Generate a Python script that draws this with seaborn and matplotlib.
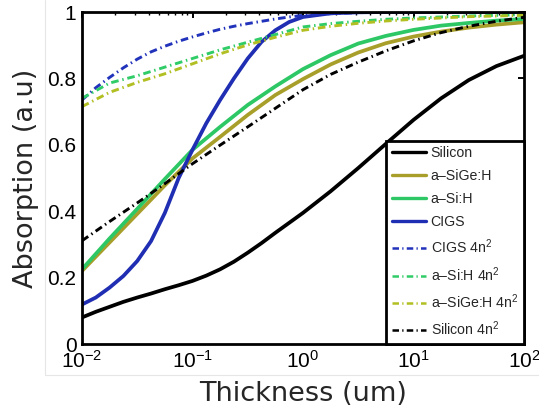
import numpy as np
import pandas as pd
import matplotlib
matplotlib.use("Agg")
import matplotlib.pyplot as plt
from matplotlib.lines import Line2D
import seaborn as sns

# ---------------- data ----------------
# log10(thickness in um) sample positions
log_x_quarter = [-2, -1.75, -1.5, -1.25, -1, -0.75, -0.5, -0.25, 0,
                 0.25, 0.5, 0.75, 1, 1.25, 1.5, 1.75, 2]
log_x_fine = [-2, -1.875, -1.75, -1.625, -1.5, -1.375, -1.25, -1.125, -1,
              -0.875, -0.75, -0.625, -0.5, -0.375, -0.25, -0.125, 0,
              0.25, 0.5, 0.75, 1, 1.25, 1.5, 1.75, 2]

silicon = [0.080, 0.097, 0.112, 0.127, 0.140, 0.152, 0.165, 0.177, 0.190,
           0.206, 0.225, 0.248, 0.275, 0.304, 0.335, 0.365, 0.395,
           0.460, 0.530, 0.603, 0.675, 0.740, 0.795, 0.837, 0.868]
cigs = [0.119, 0.140, 0.170, 0.205, 0.250, 0.310, 0.395, 0.500, 0.585,
        0.665, 0.735, 0.800, 0.860, 0.910, 0.945, 0.970, 0.985,
        0.996, 0.999, 1.0, 1.0, 1.0, 1.0, 1.0, 1.0]
cigs_4n2 = [0.735, 0.772, 0.803, 0.832, 0.858, 0.880, 0.897, 0.912, 0.925,
            0.937, 0.948, 0.957, 0.965, 0.972, 0.979, 0.985, 0.990,
            0.995, 0.998, 1.0, 1.0, 1.0, 1.0, 1.0, 1.0]
a_sige = [0.220, 0.306, 0.392, 0.478, 0.559, 0.624, 0.690, 0.750, 0.798,
          0.842, 0.878, 0.906, 0.926, 0.941, 0.953, 0.962, 0.969]
a_si = [0.225, 0.318, 0.407, 0.497, 0.585, 0.654, 0.720, 0.776, 0.828,
        0.870, 0.905, 0.928, 0.946, 0.959, 0.967, 0.974, 0.979]
a_si_4n2 = [0.740, 0.786, 0.808, 0.834, 0.860, 0.886, 0.909, 0.932, 0.955,
            0.965, 0.972, 0.978, 0.982, 0.985, 0.988, 0.990, 0.992]
a_sige_4n2 = [0.715, 0.758, 0.788, 0.814, 0.844, 0.874, 0.901, 0.924, 0.945,
              0.957, 0.966, 0.973, 0.978, 0.982, 0.986, 0.988, 0.990]
silicon_4n2 = [0.311, 0.369, 0.425, 0.483, 0.543, 0.599, 0.654, 0.710, 0.766,
               0.812, 0.849, 0.883, 0.913, 0.938, 0.957, 0.972, 0.984]

labels = ["Silicon", "a\u2013SiGe:H", "a\u2013Si:H", "CIGS",
          "CIGS 4n$^2$", "a\u2013Si:H 4n$^2$", "a\u2013SiGe:H 4n$^2$", "Silicon 4n$^2$"]
series = [silicon, a_sige, a_si, cigs, cigs_4n2, a_si_4n2, a_sige_4n2, silicon_4n2]
x_of = [log_x_fine, log_x_quarter, log_x_quarter, log_x_fine,
        log_x_fine, log_x_quarter, log_x_quarter, log_x_quarter]
colors = ["#000000", "#a89e2a", "#2dc865", "#1f2eb2",
          "#2233bb", "#30cc68", "#b2bf22", "#000000"]
solid = [True, True, True, True, False, False, False, False]
DASH = (2.6, 1.3, 0.5, 1.3)

# ---------------- style ----------------
sns.set_style("white")
plt.rcParams["font.family"] = ["Liberation Sans", "DejaVu Sans"]
plt.rcParams["mathtext.fontset"] = "custom"
plt.rcParams["mathtext.rm"] = "Liberation Sans"
plt.rcParams["mathtext.it"] = "Liberation Sans:italic"
plt.rcParams["mathtext.bf"] = "Liberation Sans:bold"

fig = plt.figure(figsize=(5.39, 4.12), dpi=100)
ax = fig.add_axes([82 / 539, 1 - 344 / 412, 442 / 539, 332 / 412])

for lx, y, lab, col, s in zip(x_of, series, labels, colors, solid):
    df = pd.DataFrame({"Thickness": 10.0 ** np.array(lx), "Absorption": y})
    sns.lineplot(data=df, x="Thickness", y="Absorption", color=col,
                 lw=2.7 if s else 2.1, ax=ax, sort=True, legend=False)
    line = ax.lines[-1]
    line.set_label(lab)
    if not s:
        line.set_dashes(DASH)
    line.set_solid_joinstyle("round")

ax.set_xscale("log")
ax.set_xlim(1e-2, 1e2)
ax.set_ylim(0, 1)
ax.set_xticks([1e-2, 1e-1, 1e0, 1e1, 1e2])
ax.set_yticks([0, 0.2, 0.4, 0.6, 0.8, 1.0])
ax.set_yticklabels(["0", "0.2", "0.4", "0.6", "0.8", "1"])

for sp in ax.spines.values():
    sp.set_linewidth(2.0)
    sp.set_color("black")
ax.tick_params(which="both", direction="in", top=True, right=True,
               colors="black", labelsize=15)
ax.tick_params(which="major", length=4, width=1.4, pad=4)
ax.tick_params(which="minor", length=2.2, width=1.0)
ax.tick_params(axis="y", which="minor", left=False, right=False)

ax.set_xlabel("Thickness (um)", fontsize=19.5, family="DejaVu Sans", labelpad=7)
ax.set_ylabel("Absorption (a.u)", fontsize=19.5, family="DejaVu Sans", labelpad=6)

handles = []
for lab, col, s in zip(labels, colors, solid):
    h = Line2D([], [], color=col, lw=2.4 if s else 1.8, label=lab)
    if not s:
        h.set_dashes(DASH)
    handles.append(h)
leg = ax.legend(handles=handles, loc="lower right", fontsize=10.2,
                frameon=True, fancybox=False, framealpha=1,
                edgecolor="black", borderaxespad=0, borderpad=0.4,
                handlelength=2.4, handletextpad=0.35, labelspacing=0.62)
leg.get_frame().set_linewidth(2.0)

# faint border of the original figure canvas
fig.add_artist(Line2D([45 / 539, 45 / 539], [1 - 375 / 412, 1.0],
                      transform=fig.transFigure, color="#e6e6e6", lw=0.8))
fig.add_artist(Line2D([45 / 539, 1.0], [1 - 375 / 412, 1 - 375 / 412],
                      transform=fig.transFigure, color="#e6e6e6", lw=0.8))

fig.savefig("out.png", dpi=100)
